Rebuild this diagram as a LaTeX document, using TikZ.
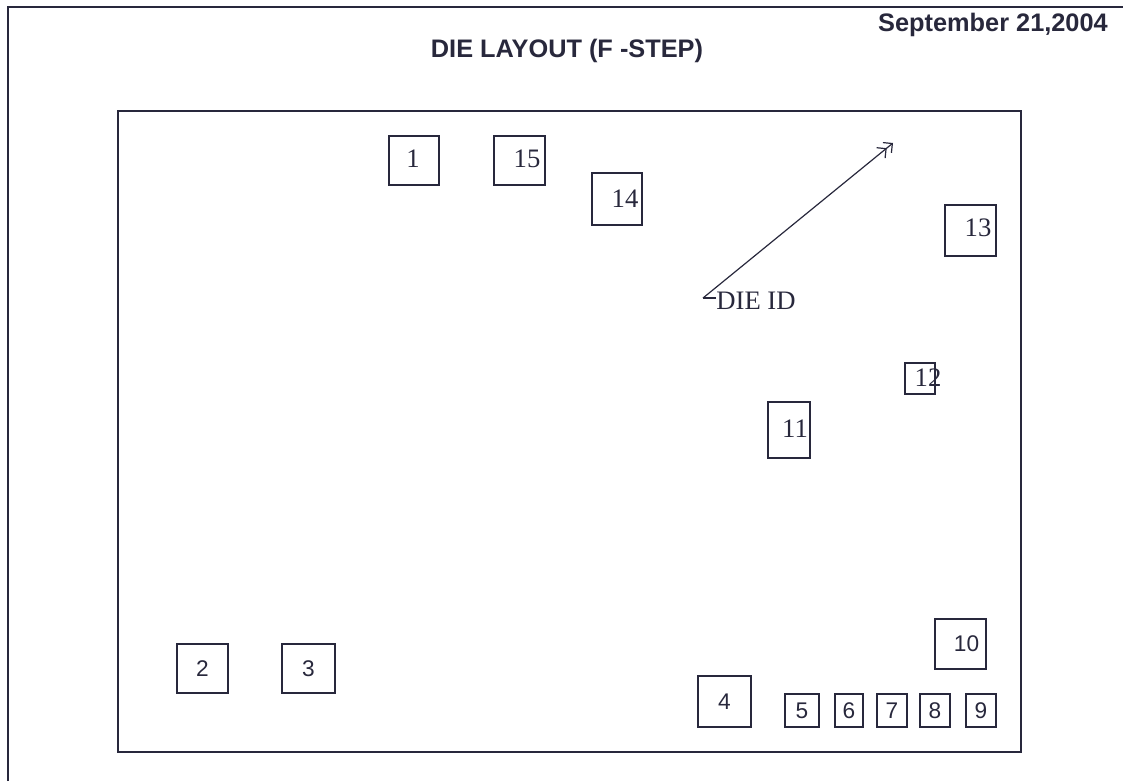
\documentclass[tikz,border=0pt]{standalone}
\usepackage{fontspec}
\setmainfont{Liberation Serif}
\setsansfont{Liberation Sans}
\usetikzlibrary{arrows.meta}

\begin{document}
\begin{tikzpicture}[x=0.75pt,y=-0.75pt,
  ink/.style={color={rgb,255:red,40;green,40;blue,60}},
  frame/.style={ink,line width=1pt},
  diebox/.style={ink,line width=0.9pt},
  topnum/.style={ink,inner sep=0pt,font=\fontsize{20}{20}\selectfont},
  lownum/.style={ink,inner sep=0pt,font=\sffamily\fontsize{17}{17}\selectfont},
  head/.style={ink,inner sep=0pt,font=\sffamily\bfseries\fontsize{19}{19}\selectfont}]
\useasboundingbox (0,0) rectangle (1123,781);
\draw [frame] (8,781) -- (8,7) -- (1123,7);
\draw [frame] (118,111) rectangle (1021,752);
\node [head] (date) at (993,25) {September 21,2004};
\node [head] (title) at (567,51) {DIE LAYOUT (F -STEP)};
\foreach \xa/\ya/\xb/\yb/\tx/\ty/\n in {389/136/439/185/413/159/1, 494/136/545/185/527/159/15,
    592/173/642/225/625/199/14, 945/205/996/256/978/228/13, 905/363/935/394/928/378/12,
    768/402/810/458/795/429/11}
{
  \draw [diebox] (\xa,\ya) rectangle (\xb,\yb);
  \node [topnum] (d\n) at (\tx,\ty) {\n};
}
\foreach \xa/\ya/\xb/\yb/\n in {177/644/228/693/2, 282/644/335/693/3, 698/676/751/727/4,
    785/694/819/727/5, 835/694/863/727/6, 877/694/907/727/7, 920/694/950/727/8,
    966/694/996/727/9, 935/619/986/669/10}
{
  \draw [diebox] (\xa,\ya) rectangle (\xb,\yb);
  \node [lownum] (d\n) at ({(\xa+\xb)/2+(\n==10)*6},{(\ya+\yb)/2}) {\n};
}
\node [topnum] (dieid) at (756,301) {DIE ID};
\coordinate (tick) at (703,298);
\coordinate (tip) at (893,143);
\draw [diebox] (dieid.west |- tick) -- (tick);
\draw [diebox,-{Straight Barb[length=5pt]Straight Barb[length=5pt]}] (tick) -- (tip);
\end{tikzpicture}
\end{document}
